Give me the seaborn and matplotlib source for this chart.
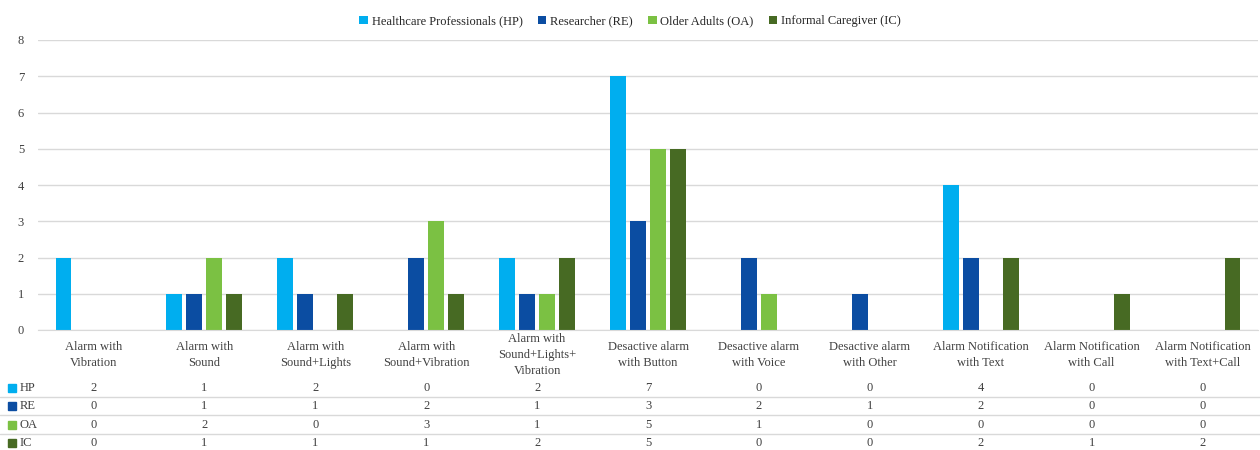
import matplotlib.pyplot as plt
import matplotlib.patches as mpatches
import matplotlib.transforms as mtransforms
import seaborn as sns
import pandas as pd

categories = ["Alarm with\nVibration", "Alarm with\nSound", "Alarm with\nSound+Lights",
              "Alarm with\nSound+Vibration", "Alarm with\nSound+Lights+\nVibration",
              "Desactive alarm\nwith Button", "Desactive alarm\nwith Voice",
              "Desactive alarm\nwith Other", "Alarm Notification\nwith Text",
              "Alarm Notification\nwith Call", "Alarm Notification\nwith Text+Call"]
groups = ["Healthcare Professionals (HP)", "Researcher (RE)", "Older Adults (OA)",
          "Informal Caregiver (IC)"]
short = ["HP", "RE", "OA", "IC"]
hp = [2, 1, 2, 0, 2, 7, 0, 0, 4, 0, 0]
re = [0, 1, 1, 2, 1, 3, 2, 1, 2, 0, 0]
oa = [0, 2, 0, 3, 1, 5, 1, 0, 0, 0, 0]
ic = [0, 1, 1, 1, 2, 5, 0, 0, 2, 1, 2]
colors = ["#00AEEF", "#0B4DA2", "#7BC143", "#476A23"]

series = [hp, re, oa, ic]
rows = []
for g, vals in zip(groups, series):
    for c, v in zip(categories, vals):
        rows.append({"category": c, "group": g, "value": v})
df = pd.DataFrame(rows)

sns.set_style("white")
plt.rcParams['font.family'] = ['Liberation Serif', 'DejaVu Serif']

fig = plt.figure(figsize=(12.6, 4.5), dpi=100)
ax = fig.add_axes([38 / 1260, 1 - 330 / 450, 1220 / 1260, 290 / 450])

sns.barplot(data=df, x="category", y="value", hue="group", order=categories,
            hue_order=groups, palette=colors, saturation=1, width=0.72, gap=0.2,
            linewidth=0, ax=ax)

ax.set_ylim(0, 8)
ax.set_xlim(-0.5, len(categories) - 0.5)
ax.set_yticks(range(0, 9))
ax.yaxis.grid(True, color="#D9D9D9", linewidth=1)
ax.set_axisbelow(True)
for s in ["top", "right", "left"]:
    ax.spines[s].set_visible(False)
ax.spines["bottom"].set_color("#D9D9D9")
ax.tick_params(axis="y", length=0, labelsize=9, labelcolor="#404040", pad=10)
ax.set_xticks(range(len(categories)))
ax.set_xticklabels([])
ax.tick_params(axis="x", length=0)
ax.set_xlabel("")
ax.set_ylabel("")

sns.move_legend(ax, "upper center", bbox_to_anchor=(0.5, 1 - 4 / 450),
                bbox_transform=fig.transFigure, ncol=4, frameon=False, title=None,
                fontsize=9, handlelength=0.7, handleheight=0.7, handletextpad=0.3,
                columnspacing=1.2)

# category labels and data table
trans = mtransforms.blended_transform_factory(ax.transData, fig.transFigure)
for i, c in enumerate(categories):
    ax.text(i, 1 - 355 / 450, c, transform=trans, ha="center", va="center",
            fontsize=9, color="#404040", linespacing=1.45, clip_on=False)

row_y = [388, 406, 425, 443]
for r, (lab, vals, col) in enumerate(zip(short, series, colors)):
    yf = 1 - row_y[r] / 450
    fig.add_artist(mpatches.Rectangle((8 / 1260, yf - 4 / 450), 8 / 1260, 8 / 450,
                                      color=col, transform=fig.transFigure))
    fig.text(20 / 1260, yf, lab, ha="left", va="center", fontsize=9, color="#404040")
    for i, v in enumerate(vals):
        ax.text(i, yf, str(v), transform=trans, ha="center", va="center",
                fontsize=9, color="#404040", clip_on=False)
for ly in [397, 415, 434]:
    fig.add_artist(plt.Line2D([0, 1], [1 - ly / 450, 1 - ly / 450], color="#D9D9D9",
                              linewidth=1, transform=fig.transFigure))

fig.savefig("out.png", dpi=100)
